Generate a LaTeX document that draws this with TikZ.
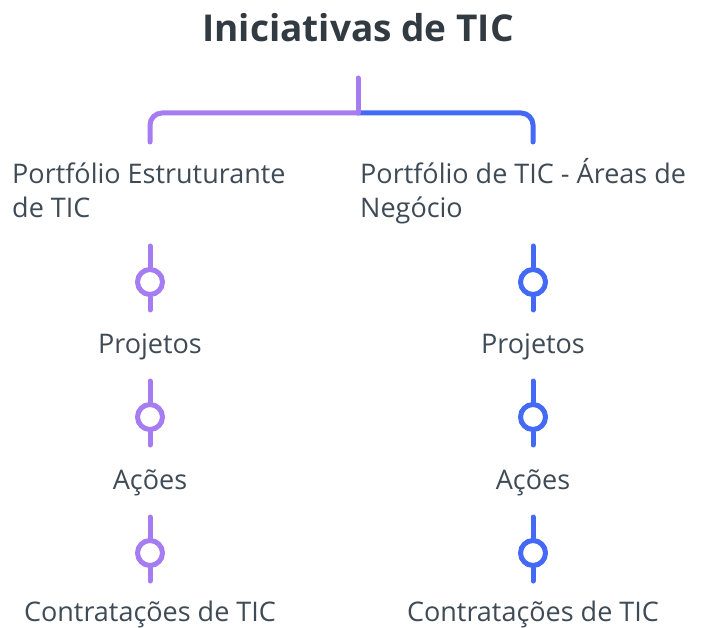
\documentclass[tikz,border=0pt]{standalone}
\usepackage{fontspec}
\setmainfont{Open Sans}
\usetikzlibrary{positioning}
\definecolor{lila}{HTML}{A67CF2}
\definecolor{azul}{HTML}{4369F6}
\definecolor{texto}{HTML}{3E4A55}
\definecolor{titulo}{HTML}{333B42}
\tikzset{
    ramo/.style={line width=5pt, line cap=round, rounded corners=12pt}, % linhas dos ramos
    anel/.style={circle, draw, line width=5pt, fill=white, minimum size=25pt, inner sep=0pt}, % marcadores
    rotulo/.style={text=texto, font=\fontsize{27}{34}\selectfont, inner sep=0pt} % textos
}

\begin{document}
\begin{tikzpicture}[x=1pt, y=-1pt]
    \useasboundingbox (0,0) rectangle (707,628);

    \node[rotulo, anchor=base, text=titulo, font=\fontsize{37}{40}\selectfont\bfseries] (tit) at (358,42) {Iniciativas de TIC};

    \coordinate (raiz) at (358,78);
    \coordinate (juncao) at (358,113);
    \coordinate (esq) at (150,142);
    \coordinate (dir) at (533,142);
    \draw[ramo, azul] (juncao) -| (dir);
    \draw[ramo, lila] (juncao) -| (esq);
    \draw[ramo, lila] (raiz) -- (juncao);

    % base west fica na linha de base da ultima linha
    \node[rotulo, align=left, anchor=base west] (portA) at (12,218) {Portfólio Estruturante\\de TIC};
    \node[rotulo, align=left, anchor=base west] (portB) at (360,218) {Portfólio de TIC - Áreas de\\Negócio};

    \foreach \r/\x/\cor in {A/150/lila, B/533/azul} {
        \foreach \n/\y/\d/\nome in {1/282/72/Projetos, 2/417/72/Ações, 3/553/68/Contratações de TIC} {
            \coordinate (topo\r\n) at (\x,\y-36);
            \coordinate (base\r\n) at (\x,\y+28);
            \node[anel, draw=\cor] (anel\r\n) at (\x,\y) {};
            \draw[ramo, \cor] (topo\r\n) -- (anel\r\n);
            \draw[ramo, \cor] (anel\r\n) -- (base\r\n);
            \node[rotulo, anchor=base] (item\r\n) at (\x,\y+\d) {\nome};
        }
    }
\end{tikzpicture}
\end{document}
